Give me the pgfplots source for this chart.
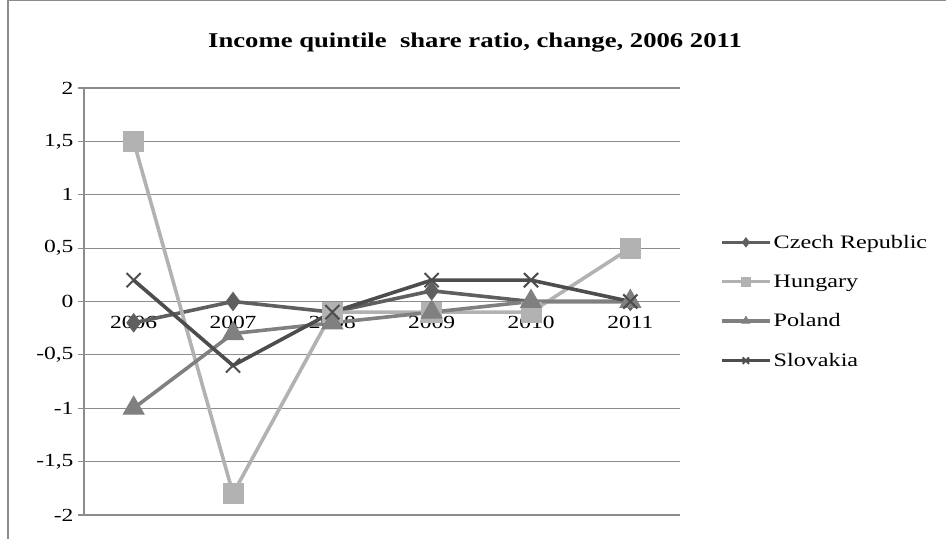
\documentclass[border=0pt]{standalone}
\usepackage{fontspec}
\setmainfont{Liberation Serif}[FakeStretch=1.27]
\usepackage{pgfplots}
\pgfplotsset{compat=1.18}
\definecolor{czc}{HTML}{5F5F5F}
\definecolor{huc}{HTML}{B2B2B2}
\definecolor{plc}{HTML}{808080}
\definecolor{skc}{HTML}{4D4D4D}
\definecolor{gridc}{HTML}{8C8C8C}
\begin{document}
\begin{tikzpicture}
\path[use as bounding box] (0,0) rectangle (946bp,539bp);
\draw[gridc,line width=1.2bp] (8bp,0) -- (8bp,538.5bp) -- (946bp,538.5bp);
\node[font=\fontsize{21bp}{24bp}\selectfont\bfseries] at (475bp,496bp) {Income quintile\ \ share ratio, change, 2006\ 2011};
\begin{axis}[
  at={(84bp,24bp)}, anchor=south west,
  scale only axis, width=596bp, height=427bp,
  xmin=-0.5, xmax=5.5, ymin=-2, ymax=2,
  axis x line*=middle, axis y line*=left,
  axis line style={gridc, line width=1.2bp},
  xtick={0,...,5}, xticklabels={2006,2007,2008,2009,2010,2011},
  x tick style={draw=none},
  minor xtick={-0.5,0.5,...,5.5},
  minor x tick style={gridc, line width=1.2bp},
  minor tick length=6bp,
  ytick={-2,-1.5,...,2},
  y tick style={gridc, line width=1.2bp},
  major tick length=6bp,
  tick align=outside,
  ymajorgrids, grid style={gridc, line width=1.2bp},
  /pgf/number format/.cd, use comma, assume math mode=true, /pgfplots/.cd,
  yticklabel style={font=\fontsize{18.5bp}{20bp}\selectfont, xshift=-1bp},
  xticklabel style={font=\fontsize{18.5bp}{20bp}\selectfont, yshift=-5bp},
  clip=false,
  every axis plot/.append style={line width=3.6bp},
  legend style={at={(1.067,0.5)}, anchor=west, draw=none, fill=none,
    font=\fontsize{19bp}{21bp}\selectfont, row sep=21bp, inner sep=0pt},
  legend cell align=left,
  legend image code/.code={\draw[#1] (0bp,0bp) -- (48bp,0bp);
    \path[#1, mark size=4.5bp] plot[only marks] coordinates {(24bp,0bp)};},
]
\addplot[color=czc, mark=diamond*, mark size=9bp, mark options={fill=czc, line width=1bp}] coordinates {(0,-0.2) (1,0) (2,-0.1) (3,0.1) (4,0) (5,0)};
\addlegendentry{Czech Republic}
\addplot[color=huc, mark=square*, mark size=10bp, mark options={fill=huc, line width=1bp}] coordinates {(0,1.5) (1,-1.8) (2,-0.1) (3,-0.1) (4,-0.1) (5,0.5)};
\addlegendentry{Hungary}
\addplot[color=plc, mark=triangle*, mark size=12bp, mark options={fill=plc, line width=1bp}] coordinates {(0,-1) (1,-0.3) (2,-0.2) (3,-0.1) (4,0) (5,0)};
\addlegendentry{Poland}
\addplot[color=skc, mark=x, mark size=10bp, mark options={line width=2bp}] coordinates {(0,0.2) (1,-0.6) (2,-0.1) (3,0.2) (4,0.2) (5,0)};
\addlegendentry{Slovakia}
\end{axis}
\end{tikzpicture}
\end{document}
